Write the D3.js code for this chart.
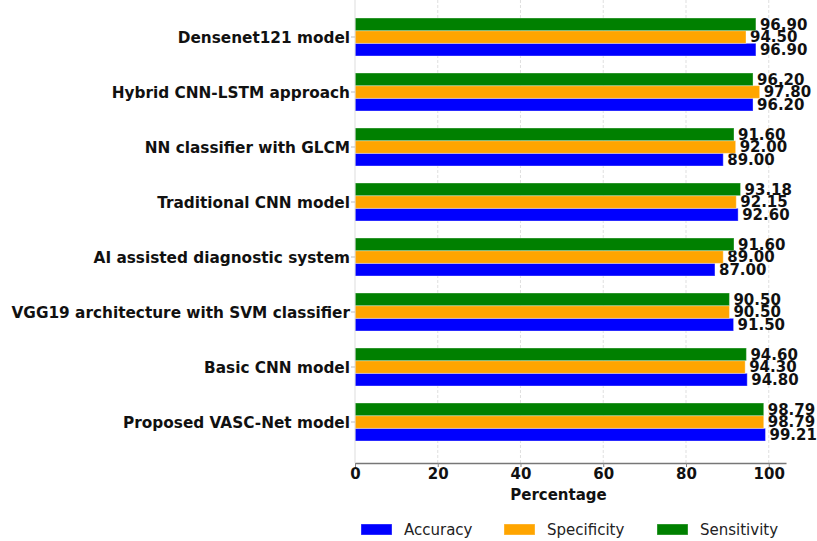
<!DOCTYPE html>
<html><head><meta charset="utf-8">
<script src="https://cdn.jsdelivr.net/npm/d3@7"></script>
<style>body{margin:0;background:#fff}svg{display:block;font-family:"DejaVu Sans",sans-serif}</style>
</head><body><svg id="c" width="817" height="541"></svg>
<script>
const categories = ["Densenet121 model","Hybrid CNN-LSTM approach","NN classifier with GLCM","Traditional CNN model","AI assisted diagnostic system","VGG19 architecture with SVM classifier","Basic CNN model","Proposed VASC-Net model"];
const accuracy    = [96.90, 96.20, 89.00, 92.60, 87.00, 91.50, 94.80, 99.21];
const specificity = [94.50, 97.80, 92.00, 92.15, 89.00, 90.50, 94.30, 98.79];
const sensitivity = [96.90, 96.20, 91.60, 93.18, 91.60, 90.50, 94.60, 98.79];
const seriesNames = ["Accuracy","Specificity","Sensitivity"];
const seriesColors = ["#0000ff","#ffa500","#008000"];
const xTicks = [0,20,40,60,80,100];

const series = [accuracy, specificity, sensitivity];
const svg = d3.select("#c");
const left = 355, right = 786, bottom = 463;
const x = d3.scaleLinear().domain([0, 104.17]).range([left, right]);
const y = d3.scaleBand().domain(categories).range([9.5, 449.5]).padding(0);
const sub = d3.scaleBand().domain(["Sensitivity","Specificity","Accuracy"]).range([-19, 19]);

// grid
svg.append("g").selectAll("line").data(xTicks.filter(t=>t>0)).join("line")
  .attr("x1", d=>x(d)).attr("x2", d=>x(d)).attr("y1", 0).attr("y2", bottom)
  .attr("stroke", "#d8d8d8").attr("stroke-width", 0.8).attr("stroke-dasharray", "3,2");

// bars
series.forEach((vals, si) => {
  const name = seriesNames[si];
  const g = svg.append("g");
  g.selectAll("rect").data(categories).join("rect")
    .attr("x", x(0)).attr("y", (c)=> y(c) + y.bandwidth()/2 + sub(name))
    .attr("width", (c,i)=> x(vals[i]) - x(0)).attr("height", sub.bandwidth())
    .attr("fill", seriesColors[si]).attr("stroke", "rgba(255,255,255,0.35)").attr("stroke-width", 1);
  g.selectAll("text").data(categories).join("text")
    .attr("x", (c,i)=> x(vals[i]) + 4)
    .attr("y", (c)=> y(c) + y.bandwidth()/2 + sub(name) + sub.bandwidth()/2)
    .attr("dy", "0.36em").attr("font-size", 15).attr("font-weight", "bold").attr("fill", "#111")
    .text((c,i)=> vals[i].toFixed(2));
});

// left spine
svg.append("line").attr("x1", left).attr("x2", left).attr("y1", 0).attr("y2", bottom)
  .attr("stroke", "#dddddd").attr("stroke-width", 1);
// y ticks and labels
const yg = svg.append("g");
yg.selectAll("line").data(categories).join("line")
  .attr("x1", left-4).attr("x2", left).attr("y1", c=>y(c)+y.bandwidth()/2).attr("y2", c=>y(c)+y.bandwidth()/2)
  .attr("stroke", "#bbb");
yg.selectAll("text").data(categories).join("text")
  .attr("x", left-5).attr("y", c=>y(c)+y.bandwidth()/2).attr("dy","0.36em")
  .attr("text-anchor","end").attr("font-size",15.3).attr("font-weight","bold").attr("fill","#111")
  .text(c=>c);

// x axis
const xa = svg.append("g").attr("transform", `translate(0,${bottom})`)
  .call(d3.axisBottom(x).tickValues(xTicks).tickSize(4).tickPadding(1).tickSizeOuter(0));
xa.select(".domain").attr("stroke", "#777").attr("stroke-width", 1.3);
xa.selectAll(".tick line").attr("stroke", "#888");
xa.selectAll(".tick text").attr("font-size", 15).attr("font-weight","bold").attr("fill","#111")
  .attr("font-family", '"DejaVu Sans",sans-serif');
svg.append("text").attr("x", (left+right)/2 - 12).attr("y", 495).attr("dy","0.36em")
  .attr("text-anchor","middle").attr("font-size",15).attr("font-weight","bold").attr("fill","#111")
  .text("Percentage");

// legend
const legX = [361, 504, 657];
const lg = svg.append("g");
seriesNames.forEach((n,i)=>{
  lg.append("rect").attr("x", legX[i]).attr("y", 524).attr("width", 31).attr("height", 11)
    .attr("fill", seriesColors[i]).attr("stroke","rgba(255,255,255,0.35)");
  lg.append("text").attr("x", legX[i]+43).attr("y", 530).attr("dy","0.36em")
    .attr("font-size",15).attr("fill","#222").text(n);
});
</script></body></html>
